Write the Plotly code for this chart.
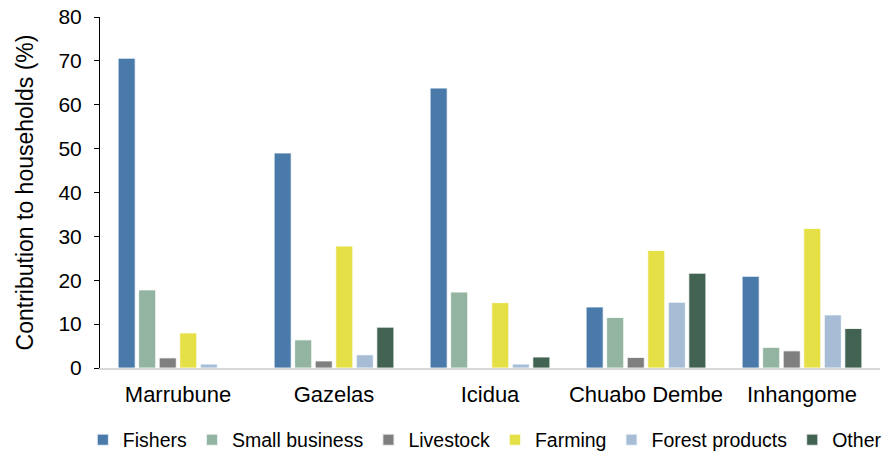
import plotly.graph_objects as go

categories = ["Marrubune", "Gazelas", "Icidua", "Chuabo Dembe", "Inhangome"]
series_names = ["Fishers", "Small business", "Livestock", "Farming", "Forest products", "Other"]
fishers = [70.6, 49.0, 63.8, 13.9, 20.9]
small_business = [17.8, 6.4, 17.3, 11.5, 4.7]
livestock = [2.3, 1.6, 0.0, 2.4, 3.9]
farming = [8.0, 27.8, 14.9, 26.8, 31.8]
forest_products = [0.9, 3.0, 0.9, 15.0, 12.1]
other = [0.0, 9.3, 2.5, 21.6, 9.0]
y_ticks = [0, 10, 20, 30, 40, 50, 60, 70, 80]

values = [fishers, small_business, livestock, farming, forest_products, other]
colors = ["#4a7aaa", "#92b4a0", "#7f7f7f", "#e5e046", "#a7bdd6", "#426352"]

fig = go.Figure()
for name, vals, col in zip(series_names, values, colors):
    fig.add_trace(go.Bar(
        x=categories, y=vals, name=name,
        marker=dict(color=col, line=dict(color="rgba(255,255,255,0.8)", width=1)),
    ))

fig.update_layout(
    width=886, height=453,
    barmode="group", bargap=0.21, bargroupgap=0.17,
    plot_bgcolor="white", paper_bgcolor="white",
    margin=dict(l=100, r=6, t=17, b=85, autoexpand=False),
    font=dict(family="Liberation Sans, Arial, sans-serif", size=19, color="#000000"),
    showlegend=True,
    legend=dict(orientation="h",
                x=-0.022, xanchor="left", y=-0.205, yanchor="middle",
                font=dict(size=19.5), tracegroupgap=0, itemsizing="constant"),
    xaxis=dict(showline=True, linecolor="#d9d9d9", linewidth=2, ticks="",
               tickfont=dict(size=22), showgrid=False, zeroline=False,
               ticklabelstandoff=6),
    yaxis=dict(range=[0, 80], tickvals=y_ticks, showline=True, linecolor="#000000",
               linewidth=1, ticks="outside", ticklen=5, tickcolor="#000000",
               showgrid=False, zeroline=False, tickfont=dict(size=21),
               ticklabelstandoff=8,
               title=dict(text="Contribution to households (%)", font=dict(size=23), standoff=18)),
)

fig.write_html("out.html")
